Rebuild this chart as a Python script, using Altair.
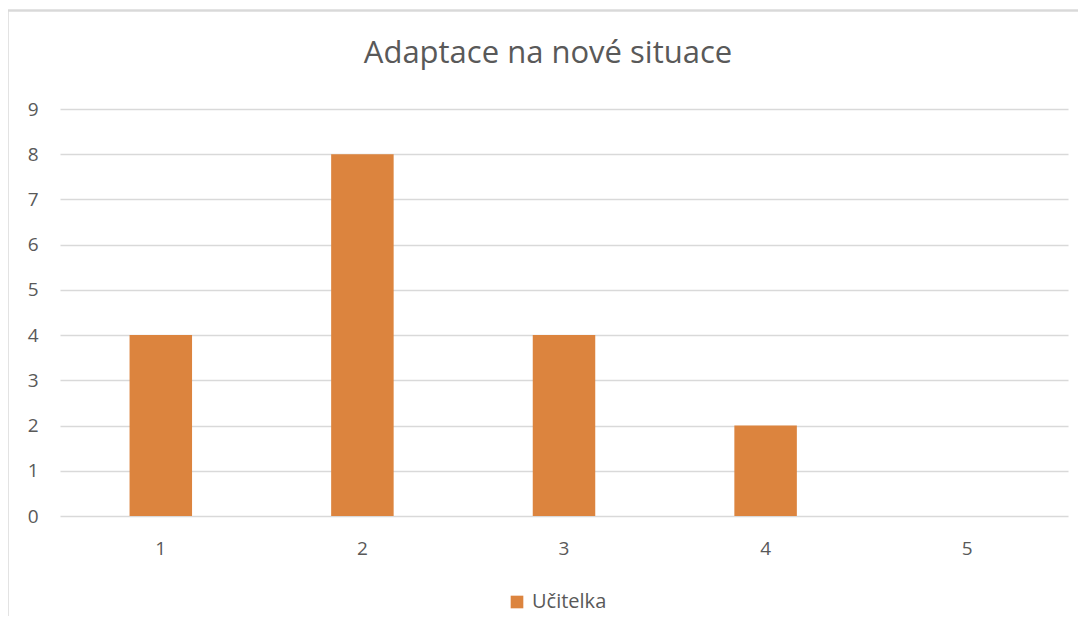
import altair as alt
import pandas as pd

categories = ["1", "2", "3", "4", "5"]
values = [4, 8, 4, 2, 0]
series = ["Učitelka"] * 5
title_text = "Adaptace na nové situace"

df = pd.DataFrame({"kategorie": categories, "hodnota": values, "serie": series})

W, H = 1008, 407
FONT = "Open Sans"
TXT = "#595959"

bars = alt.Chart(df).mark_bar(color="#DC843E").encode(
    x=alt.X("kategorie:N", sort=categories,
            scale=alt.Scale(paddingInner=0.69, paddingOuter=0.345),
            axis=alt.Axis(title=None, labelAngle=0, domain=False, ticks=False,
                          labelPadding=23, labelFontSize=19, labelColor=TXT, labelFont=FONT)),
    y=alt.Y("hodnota:Q", scale=alt.Scale(domain=[0, 9], nice=False),
            axis=alt.Axis(title=None, values=list(range(10)), domain=False, ticks=False,
                          grid=True, gridColor="#D9D9D9", gridWidth=1.5,
                          labelPadding=22, labelFontSize=19, labelColor=TXT, labelFont=FONT)),
    color=alt.Color("serie:N", scale=alt.Scale(range=["#DC843E"]),
                    legend=alt.Legend(title=None, orient="none", legendX=447, legendY=483,
                                      symbolType="square", symbolSize=160, symbolStrokeWidth=0,
                                      labelFontSize=20, labelColor=TXT, labelFont=FONT,
                                      labelOffset=5)),
)

frame = alt.Chart(df).mark_rule(color="#D9D9D9", strokeWidth=1.5).encode(
    x=alt.value(-52.5), x2=alt.value(W + 40), y=alt.value(-98.5)
)
frame2 = alt.Chart(df).mark_rule(color="#D9D9D9", strokeWidth=1.5).encode(
    x=alt.value(-52.5), y=alt.value(-98.5), y2=alt.value(H + 140)
)

chart = alt.layer(frame, frame2, bars).properties(
    width=W, height=H,
    title=alt.TitleParams(title_text, fontSize=31, font=FONT, color=TXT, fontWeight="normal",
                          anchor="middle", dx=-16, offset=0, dy=84, baseline="alphabetic"),
    autosize=alt.AutoSizeParams(type="none"),
    padding={"left": 52, "top": 101, "right": 10, "bottom": 100},
).configure_view(stroke=None)

chart.save("out.html", embed_options={"renderer": "svg", "actions": False})
